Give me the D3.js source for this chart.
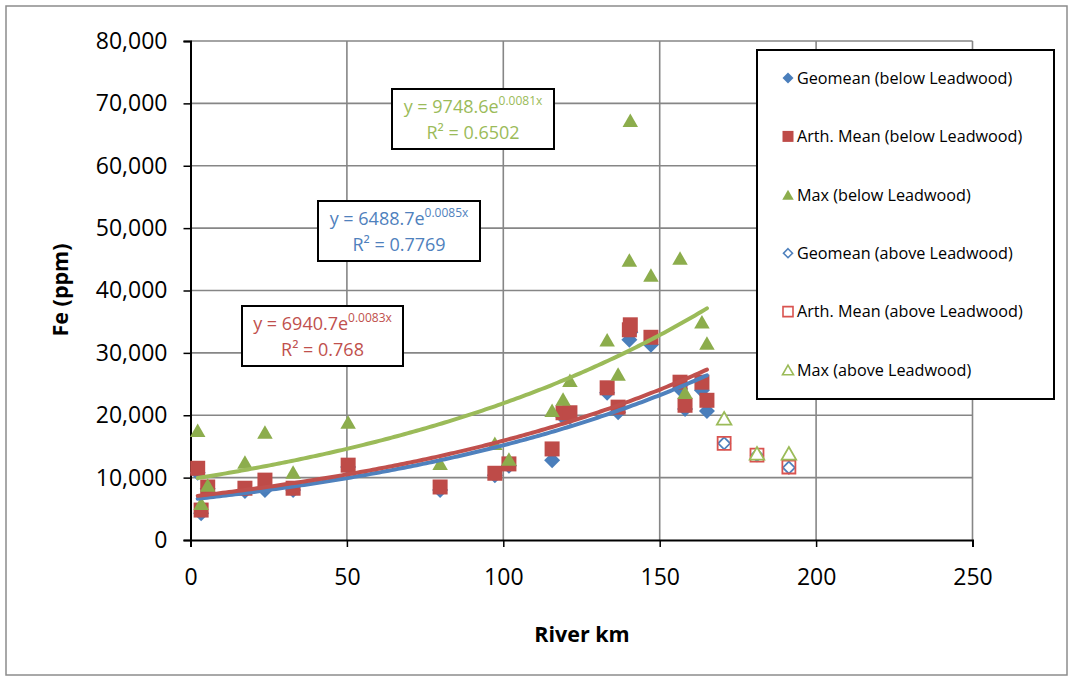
<!DOCTYPE html>
<html>
<head>
<meta charset="utf-8">
<script src="https://cdn.jsdelivr.net/npm/d3@7"></script>
<style>
  html, body { margin: 0; padding: 0; background: #fff; }
  svg { display: block; font-family: "Open Sans", "Noto Sans", sans-serif; }
</style>
</head>
<body>
<svg id="chart"></svg>
<script>
"use strict";

// data (river km, Fe ppm)
var kmBelow   = [2.3, 3.4, 5.5, 17.4, 23.8, 32.8, 50.4, 79.8, 97.3, 101.8, 115.6, 119.1, 121.3, 133.2, 136.7, 140.3, 140.6, 147.2, 156.5, 158.1, 163.5, 165.1];
var geoBelow  = [10800, 4300, 8200, 7850, 8000, 8000, 11700, 8000, 10400, 11900, 12800, 19700, 19700, 23600, 20500, 32100, 33300, 31300, 24200, 21000, 24000, 20700];
var meanBelow = [11500, 4800, 8500, 8300, 9600, 8300, 12000, 8500, 10700, 12200, 14600, 20400, 20400, 24400, 21300, 33700, 34500, 32500, 25300, 21600, 25300, 22400];
var maxBelow  = [17600, 5900, 8800, 12500, 17300, 10900, 18900, 12300, 15500, 13000, 20800, 22600, 25600, 32100, 26600, 44900, 67300, 42500, 45200, 23700, 35000, 31600];

var kmAbove   = [170.6, 181.1, 191.3];
var geoAbove  = [15500, 13600, 11600];
var meanAbove = [15500, 13600, 11700];
var maxAbove  = [19500, 13900, 13900];

// exponential trendlines y = a * e^(b x), order: geomean, mean, max
var trendNames = ["geo", "mean", "max"];
var trendA  = [6488.7, 6940.7, 9748.6];
var trendB  = [0.0085, 0.0083, 0.0081];
var trendR2 = ["0.7769", "0.768", "0.6502"];

var xTicks = [0, 50, 100, 150, 200, 250];
var yTicks = [0, 10000, 20000, 30000, 40000, 50000, 60000, 70000, 80000];

var legendLabels = [
  "Geomean (below Leadwood)",
  "Arth. Mean (below Leadwood)",
  "Max (below Leadwood)",
  "Geomean (above Leadwood)",
  "Arth. Mean (above Leadwood)",
  "Max (above Leadwood)"
];

var W = 1073, H = 679;
var blue = "#4a7ebb", red = "#be4b48", green = "#8cad4c";
var blueLine = "#4f81bd", redLine = "#c0504d", greenLine = "#9bbb59";

var svg = d3.select("#chart").attr("width", W).attr("height", H);

svg.append("rect")
  .attr("x", 6).attr("y", 6).attr("width", W - 12).attr("height", H - 10)
  .attr("fill", "#fff").attr("stroke", "#8c8c8c").attr("stroke-width", 1.5);

var x = d3.scaleLinear().domain([0, 250]).range([190.5, 972.5]);
var y = d3.scaleLinear().domain([0, 80000]).range([540, 41]);

// grid
var grid = svg.append("g").attr("stroke", "#868686").attr("stroke-width", 1.6);
grid.selectAll(".gy").data(yTicks.slice(1)).enter().append("line")
  .attr("x1", x(0)).attr("x2", x(250))
  .attr("y1", function (d) { return y(d); }).attr("y2", function (d) { return y(d); });
grid.selectAll(".gx").data(xTicks.slice(1)).enter().append("line")
  .attr("y1", y(0)).attr("y2", y(80000))
  .attr("x1", function (d) { return x(d); }).attr("x2", function (d) { return x(d); });

// axes
var yAxis = svg.append("g").attr("transform", "translate(" + x(0) + ",0)")
  .call(d3.axisLeft(y).tickValues(yTicks).tickFormat(d3.format(",")).tickSize(7).tickPadding(16));
var xAxis = svg.append("g").attr("transform", "translate(0," + y(0) + ")")
  .call(d3.axisBottom(x).tickValues(xTicks).tickSize(7).tickPadding(22));
[yAxis, xAxis].forEach(function (ax) {
  ax.select(".domain").attr("stroke", "#000").attr("stroke-width", 2);
  ax.selectAll(".tick line").attr("stroke", "#000").attr("stroke-width", 1.5);
  ax.selectAll("text").attr("font-size", 23).attr("fill", "#000")
    .attr("font-family", "'Open Sans', sans-serif");
});

svg.append("text").attr("x", 582).attr("y", 642).attr("text-anchor", "middle")
  .attr("font-size", 21.5).attr("font-weight", "bold").text("River km");
svg.append("text").attr("transform", "translate(68,290) rotate(-90)")
  .attr("text-anchor", "middle").attr("font-size", 21.5).attr("font-weight", "bold")
  .text("Fe (ppm)");

// marker shapes
function square(s) { return "M" + (-s / 2) + "," + (-s / 2) + "h" + s + "v" + s + "h" + (-s) + "Z"; }
function diamond(r) { return "M0," + (-r) + "L" + r + ",0L0," + r + "L" + (-r) + ",0Z"; }
function triangle(w) {
  var h = w * 0.87;
  return "M0," + (-h / 2) + "L" + (w / 2) + "," + (h / 2) + "L" + (-w / 2) + "," + (h / 2) + "Z";
}

function drawSeries(km, vals, path, fill, stroke, sw) {
  svg.append("g").selectAll("path").data(km.map(function (k, i) { return [k, vals[i]]; }))
    .enter().append("path")
    .attr("d", path)
    .attr("transform", function (d) { return "translate(" + x(d[0]) + "," + y(d[1]) + ")"; })
    .attr("fill", fill).attr("stroke", stroke).attr("stroke-width", sw);
}

drawSeries(kmBelow, geoBelow, diamond(8), blue, "none", 0);
drawSeries(kmBelow, meanBelow, square(15), red, "none", 0);
drawSeries(kmBelow, maxBelow, triangle(15.5), green, "none", 0);
drawSeries(kmAbove, geoAbove, diamond(6), "none", blueLine, 1.8);
drawSeries(kmAbove, meanAbove, square(13), "none", "#d9534f", 1.8);
drawSeries(kmAbove, maxAbove, triangle(14.5), "#fff", greenLine, 1.8);

// trendlines over the below-Leadwood range
var ext = d3.extent(kmBelow);
var kmLine = d3.range(ext[0], ext[1], 1).concat([ext[1]]);
var line = d3.line().x(function (d) { return x(d[0]); }).y(function (d) { return y(d[1]); });
var trendColors = [blueLine, redLine, greenLine];
[0, 1, 2].forEach(function (t) {
  svg.append("path")
    .datum(kmLine.map(function (k) { return [k, trendA[t] * Math.exp(trendB[t] * k)]; }))
    .attr("class", "trend-" + trendNames[t])
    .attr("d", line).attr("fill", "none")
    .attr("stroke", trendColors[t]).attr("stroke-width", 4).attr("stroke-linecap", "round");
});

// equation labels
var eqBoxes = [
  { x: 318, y: 201, w: 162, h: 60 },
  { x: 242, y: 306, w: 161, h: 60 },
  { x: 392, y: 89, w: 162, h: 60 }
];
eqBoxes.forEach(function (b, t) {
  var g = svg.append("g");
  g.append("rect").attr("x", b.x).attr("y", b.y).attr("width", b.w).attr("height", b.h)
    .attr("fill", "#fff").attr("stroke", "#000").attr("stroke-width", 2);
  var cx = b.x + b.w / 2;
  var t1 = g.append("text").attr("x", cx).attr("y", b.y + 24).attr("text-anchor", "middle")
    .attr("font-size", 18).attr("fill", trendColors[t]);
  t1.append("tspan").text("y = " + trendA[t] + "e");
  t1.append("tspan").attr("dy", -8).attr("font-size", 12).text(trendB[t] + "x");
  g.append("text").attr("x", cx).attr("y", b.y + 50).attr("text-anchor", "middle")
    .attr("font-size", 18).attr("fill", trendColors[t]).text("R² = " + trendR2[t]);
});

// legend
var lg = svg.append("g");
lg.append("rect").attr("x", 757).attr("y", 50).attr("width", 297).attr("height", 349)
  .attr("fill", "#fff").attr("stroke", "#000").attr("stroke-width", 2);
var legendMarks = [
  { d: diamond(5.5), fill: blue, stroke: "none" },
  { d: square(11), fill: red, stroke: "none" },
  { d: triangle(11.5), fill: green, stroke: "none" },
  { d: diamond(4.5), fill: "none", stroke: blueLine },
  { d: square(10), fill: "none", stroke: "#d9534f" },
  { d: triangle(11), fill: "none", stroke: greenLine }
];
var rowY = d3.scaleLinear().domain([0, 5]).range([78, 370]);
legendLabels.forEach(function (lab, i) {
  lg.append("path").attr("d", legendMarks[i].d)
    .attr("transform", "translate(788," + rowY(i) + ")")
    .attr("fill", legendMarks[i].fill).attr("stroke", legendMarks[i].stroke).attr("stroke-width", 1.6);
  lg.append("text").attr("x", 797).attr("y", rowY(i)).attr("dy", "0.36em")
    .attr("font-size", 16.2).attr("fill", "#000").text(lab);
});
</script>
</body>
</html>
